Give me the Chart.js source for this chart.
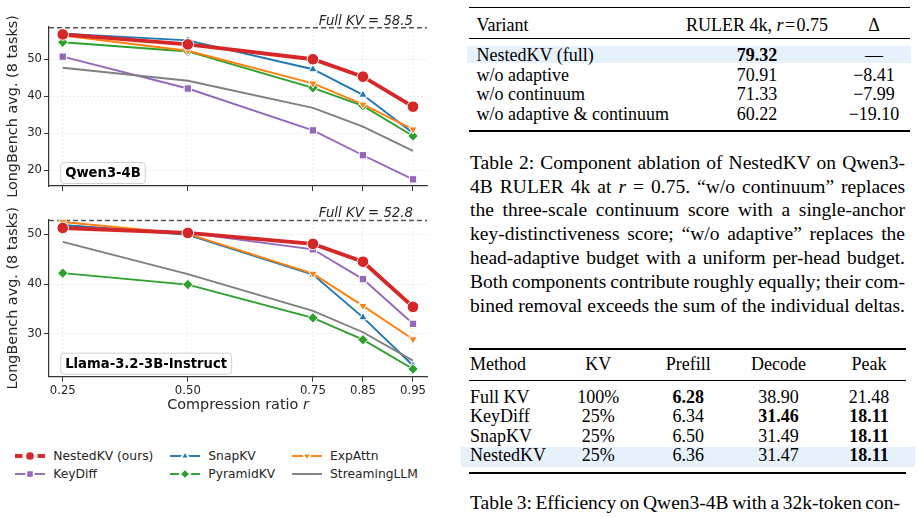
<!DOCTYPE html>
<html>
<head>
<meta charset="utf-8">
<script src="https://cdn.jsdelivr.net/npm/chart.js@4.4.1/dist/chart.umd.min.js"></script>
<style>
  html, body { margin: 0; padding: 0; background: #fff; }
  body { width: 921px; height: 517px; position: relative; overflow: hidden; }
  canvas.plot { position: absolute; left: 0; }
  .tx { position: absolute; font-family: "Liberation Serif", "Times New Roman", serif; color: #000; white-space: nowrap; }
  .tx span { display: inline-block; white-space: nowrap; }
  .rule { position: absolute; background: #000; }
  .hl { position: absolute; background: #e7f1fb; }
  .leg { position: absolute; font-family: "DejaVu Sans"; font-size: 12.3px; color: #262626; white-space: nowrap; line-height: 16px; }
  .swatch { position: absolute; }
</style>
</head>
<body>
<canvas class="plot" id="qwen" width="440" height="197" style="top:0"></canvas>
<canvas class="plot" id="llama" width="440" height="223" style="top:197px"></canvas>
<script>
// x positions (compression ratio r)
const ratios = [0.25, 0.50, 0.75, 0.85, 0.95]

// Qwen3-4B, LongBench avg.
const qwenNested    = [56.7, 54.0, 50.0, 45.3, 37.2]
const qwenKeyDiff   = [50.7, 42.1, 30.8, 24.1, 17.6]
const qwenSnap      = [56.9, 55.1, 47.3, 40.4, 30.1]
const qwenPyramid   = [54.6, 52.1, 42.3, 37.4, 29.3]
const qwenExpAttn   = [56.4, 52.3, 43.5, 37.8, 31.1]
const qwenStreaming = [47.7, 44.2, 36.9, 31.8, 25.3]
const qwenFullKV = 58.5
const qwenYTicks = [20, 30, 40, 50]

// Llama-3.2-3B-Instruct, LongBench avg.
const llamaNested    = [51.3, 50.3, 48.1, 44.5, 35.4]
const llamaKeyDiff   = [51.8, 50.3, 47.0, 41.0, 32.0]
const llamaSnap      = [51.9, 49.9, 41.9, 33.3, 23.6]
const llamaPyramid   = [42.2, 39.9, 33.2, 28.8, 22.9]
const llamaExpAttn   = [52.5, 50.1, 42.1, 35.6, 28.9]
const llamaStreaming = [48.5, 42.0, 34.6, 30.3, 24.6]
const llamaFullKV = 52.8
const llamaYTicks = [30, 40, 50]

// legend order (column-major, 3 columns)
const methods = [
  { name: 'NestedKV (ours)', color: '#d62728', marker: 'circle',   radius: 5.8, width: 3.9, order: 0 },
  { name: 'KeyDiff',         color: '#9467bd', marker: 'rect',     radius: 5.2, width: 1.9, order: 5 },
  { name: 'SnapKV',          color: '#1f77b4', marker: 'triangle', radius: 4.8, width: 1.9, order: 4 },
  { name: 'PyramidKV',       color: '#2ca02c', marker: 'rectRot',  radius: 5.2, width: 1.9, order: 3 },
  { name: 'ExpAttn',         color: '#ff7f0e', marker: 'triangle', radius: 4.8, width: 1.9, order: 2, rotation: 180 },
  { name: 'StreamingLLM',    color: '#7f7f7f', marker: 'circle',   radius: 0,   width: 1.9, order: 1 }
]

Chart.defaults.font.family = 'DejaVu Sans'
Chart.defaults.color = '#262626'

const refLine = {
  id: 'refLine',
  beforeDatasetsDraw(chart, args, o) {
    const { ctx, chartArea: a, scales: { y } } = chart
    const py = y.getPixelForValue(o.value)
    ctx.save()
    ctx.strokeStyle = '#555'
    ctx.lineWidth = 1.4
    ctx.setLineDash([5, 3])
    ctx.beginPath()
    ctx.moveTo(a.left, py)
    ctx.lineTo(a.right, py)
    ctx.stroke()
    ctx.restore()
  },
  afterDatasetsDraw(chart, args, o) {
    const { ctx, chartArea: a, scales: { x, y } } = chart
    const py = y.getPixelForValue(o.value)
    ctx.save()
    ctx.font = 'italic 13.3px "DejaVu Sans"'
    ctx.fillStyle = '#262626'
    ctx.textAlign = 'right'
    ctx.textBaseline = 'alphabetic'
    ctx.fillText('Full KV = ' + o.value.toFixed(1), x.getPixelForValue(ratios[ratios.length - 1]), py - 3)

    // model tag in the lower left corner
    ctx.font = 'bold 13.2px "DejaVu Sans"'
    const w = ctx.measureText(o.model).width + 9
    const bh = 21
    const bx = a.left + 11.7
    const by = a.bottom - 2.5 - bh
    ctx.beginPath()
    ctx.roundRect(bx, by, w, bh, 3.5)
    ctx.fillStyle = 'rgba(255,255,255,0.9)'
    ctx.fill()
    ctx.strokeStyle = '#cfcfcf'
    ctx.lineWidth = 1
    ctx.stroke()
    ctx.fillStyle = '#000'
    ctx.textAlign = 'left'
    ctx.textBaseline = 'middle'
    ctx.fillText(o.model, bx + 4.5, by + bh / 2 + 0.5)

    if (o.xTitle) {
      const part1 = 'Compression ratio '
      ctx.font = '14.4px "DejaVu Sans"'
      const w1 = ctx.measureText(part1).width
      ctx.font = 'italic 14.4px "DejaVu Sans"'
      const w2 = ctx.measureText('r').width
      const cx = (a.left + a.right) / 2
      const ty = a.bottom + 29
      ctx.fillStyle = '#262626'
      ctx.font = '14.4px "DejaVu Sans"'
      ctx.fillText(part1, cx - (w1 + w2) / 2, ty)
      ctx.font = 'italic 14.4px "DejaVu Sans"'
      ctx.fillText('r', cx - (w1 + w2) / 2 + w1, ty)
    }
    ctx.restore()
  }
}

function buildChart(id, series, opts) {
  const datasets = methods.map((m, i) => ({
    label: m.name,
    data: ratios.map((r, j) => ({ x: r, y: series[i][j] })),
    borderColor: m.color,
    backgroundColor: m.color,
    borderWidth: m.width,
    pointStyle: m.marker,
    pointRotation: m.rotation || 0,
    pointRadius: m.radius,
    pointBackgroundColor: m.color,
    pointBorderColor: '#fff',
    pointBorderWidth: 1,
    tension: 0,
    order: m.order
  }))

  return new Chart(document.getElementById(id), {
    type: 'line',
    data: { datasets },
    plugins: [refLine],
    options: {
      responsive: false,
      animation: false,
      layout: { padding: { top: opts.padTop, right: 13, bottom: 0, left: 0 } },
      plugins: {
        legend: { display: false },
        tooltip: { enabled: false },
        refLine: { value: opts.fullKV, model: opts.model, xTitle: opts.showX }
      },
      scales: {
        x: {
          type: 'linear',
          min: 0.2225,
          max: 0.978,
          afterBuildTicks: s => { s.ticks = ratios.map(v => ({ value: v })) },
          afterFit: s => { s.height = opts.xHeight },
          grid: { color: 'rgba(0,0,0,0.13)', lineWidth: 0.8, tickLength: 5, tickColor: '#333', tickWidth: 1 },
          border: { color: '#333', width: 1.2, dash: [1.5, 2.5] },
          ticks: {
            display: opts.showX,
            autoSkip: false,
            maxRotation: 0,
            padding: 2.5,
            color: '#262626',
            font: { size: 11.7 },
            callback: v => v.toFixed(2)
          }
        },
        y: {
          min: opts.yMin,
          max: opts.yMax,
          afterBuildTicks: s => { s.ticks = opts.yTicks.map(v => ({ value: v })) },
          afterFit: s => { s.width = 49 },
          grid: { color: 'rgba(0,0,0,0.13)', lineWidth: 0.8, tickLength: 5, tickColor: '#333', tickWidth: 1 },
          border: { color: '#333', width: 1.2, dash: [1.5, 2.5] },
          ticks: { padding: 2, color: '#262626', font: { size: 11.7 } },
          title: {
            display: true,
            text: 'LongBench avg. (8 tasks)',
            color: '#262626',
            font: { size: 14.4 },
            padding: { top: 5, bottom: 0 }
          }
        }
      }
    }
  })
}

buildChart('qwen',
  [qwenNested, qwenKeyDiff, qwenSnap, qwenPyramid, qwenExpAttn, qwenStreaming],
  { fullKV: qwenFullKV, model: 'Qwen3-4B', yTicks: qwenYTicks, yMin: 15.8, yMax: 58.7,
    padTop: 27, xHeight: 11, showX: false })

buildChart('llama',
  [llamaNested, llamaKeyDiff, llamaSnap, llamaPyramid, llamaExpAttn, llamaStreaming],
  { fullKV: llamaFullKV, model: 'Llama-3.2-3B-Instruct', yTicks: llamaYTicks, yMin: 21.35, yMax: 53.0,
    padTop: 22.5, xHeight: 43.3, showX: true })

// legend below the plots
const legendCols = [15, 170, 291.7]
const legendRows = [456, 474]
methods.forEach((m, i) => {
  const col = Math.floor(i / 2)
  const row = i % 2
  const cy = legendRows[row]
  const c = document.createElement('canvas')
  c.className = 'swatch'
  c.width = 30
  c.height = 16
  c.style.left = legendCols[col] + 'px'
  c.style.top = (cy - 8) + 'px'
  document.body.appendChild(c)
  const g = c.getContext('2d')
  g.strokeStyle = m.color
  g.lineWidth = m.width
  g.beginPath()
  g.moveTo(0, 8)
  g.lineTo(30, 8)
  g.stroke()
  if (m.radius > 0) {
    g.fillStyle = m.color
    g.strokeStyle = '#fff'
    Chart.helpers.drawPoint(g, { pointStyle: m.marker, rotation: m.rotation || 0, radius: m.radius, borderWidth: 1 }, 15, 8)
  }
  const t = document.createElement('div')
  t.className = 'leg'
  t.textContent = m.name
  t.style.left = (legendCols[col] + 38.3) + 'px'
  t.style.top = (cy - 8) + 'px'
  document.body.appendChild(t)
})

// tables and captions on the right
function cell(html, x, cy, align, size) {
  const d = document.createElement('div')
  d.className = 'tx'
  d.style.fontSize = size + 'px'
  d.style.lineHeight = '20px'
  d.style.top = (cy - 10) + 'px'
  if (align === 'left') {
    d.style.left = x + 'px'
  } else {
    d.style.left = (x - 100) + 'px'
    d.style.width = '200px'
    d.style.textAlign = 'center'
  }
  d.innerHTML = html
  document.body.appendChild(d)
}

function box(cls, x, y, w, h) {
  const d = document.createElement('div')
  d.className = cls
  d.style.left = x + 'px'
  d.style.top = y + 'px'
  d.style.width = w + 'px'
  d.style.height = h + 'px'
  document.body.appendChild(d)
}

const justified = []
function textLine(html, x, cy, width, size) {
  const d = document.createElement('div')
  d.className = 'tx'
  d.style.left = x + 'px'
  d.style.top = (cy - 12) + 'px'
  d.style.fontSize = size + 'px'
  d.style.lineHeight = '24px'
  const s = document.createElement('span')
  s.innerHTML = html
  d.appendChild(s)
  document.body.appendChild(d)
  justified.push({ s, width })
}

function justifyAll() {
  justified.forEach(({ s, width }) => {
    s.style.wordSpacing = '0px'
    const gaps = s.textContent.split(' ').length - 1
    const extra = width - s.getBoundingClientRect().width
    if (gaps > 0) s.style.wordSpacing = (extra / gaps) + 'px'
  })
}

// Table 2
box('hl', 467, 46, 444, 16.5)
box('rule', 469.3, 6.6, 441, 1.5)
box('rule', 469.3, 37.8, 441, 0.9)
box('rule', 469.3, 130.3, 441, 1.5)
const t2Cols = [476.5, 757, 874]
const t2Head = ['Variant', 'RULER 4k, <i>r</i>&#8202;=&#8202;0.75', '&Delta;']
const t2Rows = [
  ['NestedKV (full)', '<b>79.32</b>', '&mdash;'],
  ['w/o adaptive', '70.91', '&minus;8.41'],
  ['w/o continuum', '71.33', '&minus;7.99'],
  ['w/o adaptive &amp; continuum', '60.22', '&minus;19.10']
]
const t2Y = [55, 74.7, 94.3, 114]
t2Head.forEach((h, j) => cell(h, t2Cols[j], 25, j === 0 ? 'left' : 'center', 18))
t2Rows.forEach((r, i) => r.forEach((h, j) => cell(h, t2Cols[j], t2Y[i], j === 0 ? 'left' : 'center', 18)))

const cap2 = [
  'Table 2: Component ablation of NestedKV on Qwen3-',
  '4B RULER 4k at <i>r</i> = 0.75. \u201cw/o continuum\u201d replaces',
  'the three-scale continuum score with a single-anchor',
  'key-distinctiveness score; \u201cw/o adaptive\u201d replaces the',
  'head-adaptive budget with a uniform per-head budget.',
  'Both components contribute roughly equally; their com-',
  'bined removal exceeds the sum of the individual deltas.'
]
cap2.forEach((l, i) => textLine(l, 470, 162.7 + i * 23.83, 435, 19.5))

// Table 3
box('hl', 461, 446.7, 454, 20)
box('rule', 469.3, 348.3, 437, 1.5)
box('rule', 469.3, 380.2, 437, 0.9)
box('rule', 469.3, 472, 437, 1.5)
const t3Cols = [470, 598.3, 688.3, 778.5, 869]
const t3Head = ['Method', 'KV', 'Prefill', 'Decode', 'Peak']
const t3Rows = [
  ['Full KV', '100%', '<b>6.28</b>', '38.90', '21.48'],
  ['KeyDiff', '25%', '6.34', '<b>31.46</b>', '<b>18.11</b>'],
  ['SnapKV', '25%', '6.50', '31.49', '<b>18.11</b>'],
  ['NestedKV', '25%', '6.36', '31.47', '<b>18.11</b>']
]
const t3Y = [396.7, 416.3, 435.7, 455]
t3Head.forEach((h, j) => cell(h, t3Cols[j], 364.3, j === 0 ? 'left' : 'center', 18))
t3Rows.forEach((r, i) => r.forEach((h, j) => cell(h, t3Cols[j], t3Y[i], j === 0 ? 'left' : 'center', 18)))

textLine('Table 3: Efficiency on Qwen3-4B with a 32k-token con-', 470, 503.3, 430, 19.5)

justifyAll()
if (document.fonts) document.fonts.ready.then(justifyAll)
</script>
</body>
</html>
